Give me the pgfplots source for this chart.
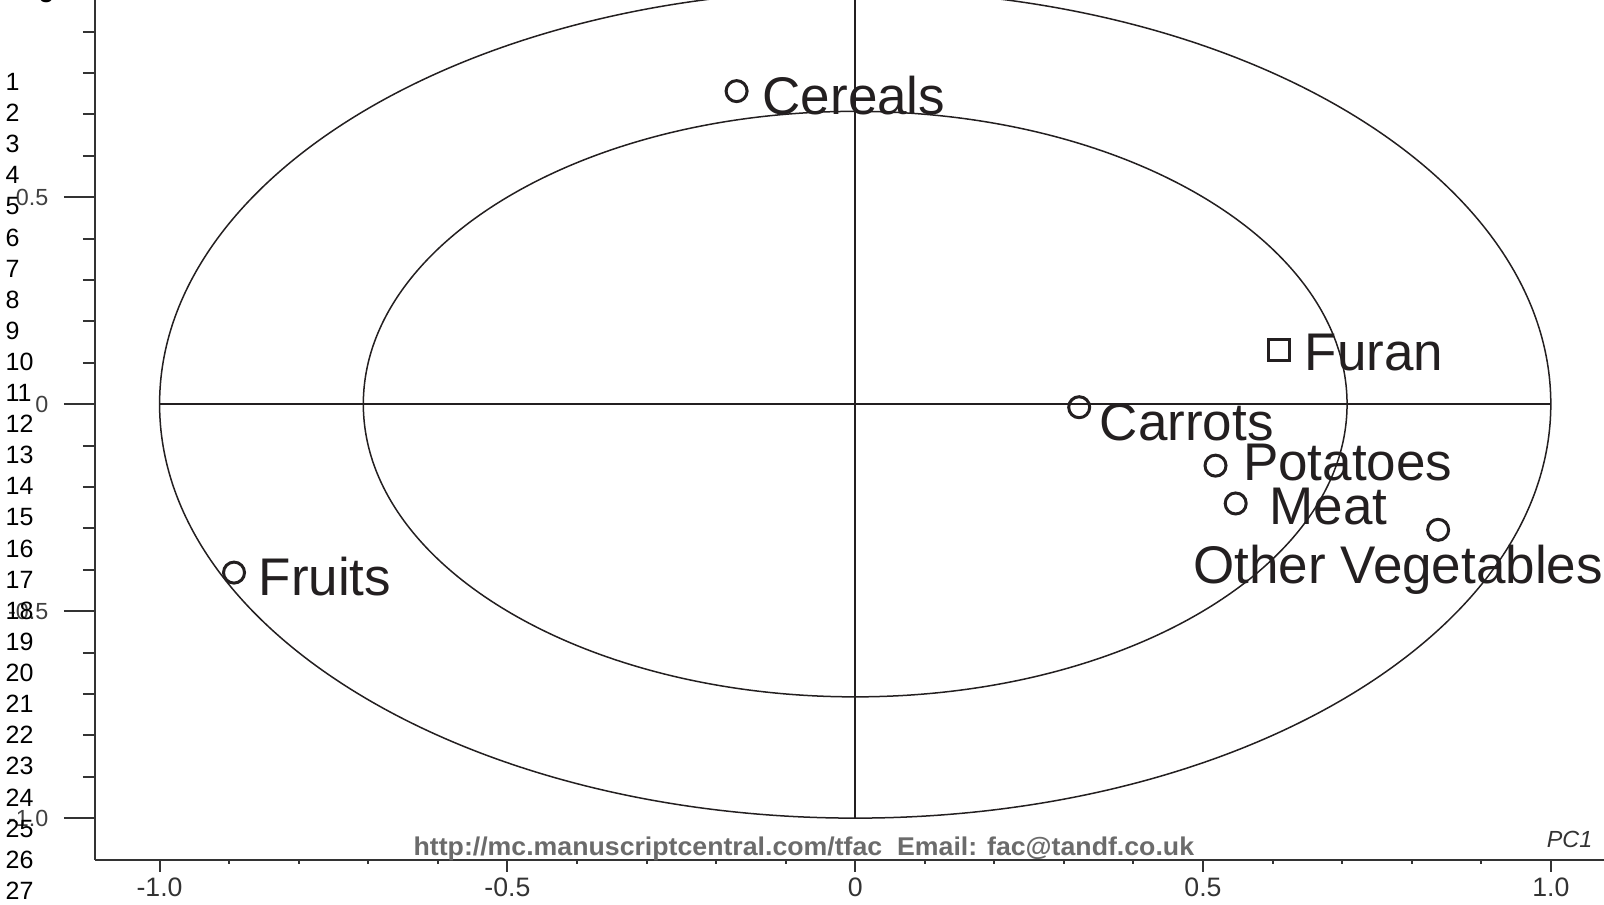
\documentclass[border=0pt]{standalone}
\usepackage{pgfplots}
\pgfplotsset{compat=1.18}
\usepackage{fontspec}
\setmainfont{Liberation Sans}
\definecolor{ink}{HTML}{231F20}
\begin{document}
\begin{tikzpicture}
\useasboundingbox (-256.56pt,-149.97pt) rectangle (224.64pt,121.23pt);
\clip (-256.56pt,-149.97pt) rectangle (224.64pt,121.23pt);
\begin{axis}[
  anchor=origin, at={(0pt,0pt)},
  x=208.68pt, y=124.2pt,
  xmin=-1.093, xmax=1.2, ymin=-1.1, ymax=1.05,
  axis x line=bottom, axis y line=left,
  axis line style={-, line width=0.6pt, black!80},
  clip=false,
  tick align=outside,
  xtick={-1,-0.5,0,0.5,1}, xticklabels={-1.0,-0.5,0,0.5,1.0},
  ytick={-1,-0.5,0,0.5}, yticklabels={-1.0,-0.5,0,0.5},
  minor xtick={-0.9,-0.8,-0.7,-0.6,-0.4,-0.3,-0.2,-0.1,0.1,0.2,0.3,0.4,0.6,0.7,0.8,0.9},
  minor ytick={-0.9,-0.8,-0.7,-0.6,-0.4,-0.3,-0.2,-0.1,0.1,0.2,0.3,0.4,0.6,0.7,0.8,0.9},
  xtick style={/pgfplots/major tick length=3.6pt, /pgfplots/minor tick length=1.2pt, line width=0.6pt, black!80},
  ytick style={/pgfplots/major tick length=9.3pt, /pgfplots/minor tick length=3.6pt, line width=0.6pt, black!80},
  xticklabel style={font=\fontsize{8}{9}\selectfont, text=black!80, anchor=north, inner sep=0pt, yshift=-0.9pt},
  yticklabel style={font=\fontsize{7}{8}\selectfont, text=black!75, anchor=east, inner sep=0pt, xshift=-9.5pt},
]
% reference circles and crosshair
\draw[ink, line width=0.45pt] (axis cs:-1,0) -- (axis cs:1,0);
\draw[ink, line width=0.45pt] (axis cs:0,-1) -- (axis cs:0,1);
\draw[ink, line width=0.45pt] (axis cs:0,0) ellipse [x radius=1, y radius=1];
\draw[ink, line width=0.45pt] (axis cs:0,0) ellipse [x radius=0.7071, y radius=0.7071];
% loadings
\addplot[only marks, mark=o, mark size=3.15pt, ink, line width=0.9pt] coordinates {
  (-0.1705,0.756) (0.322,-0.0075) (0.518,-0.1486) (0.547,-0.240) (0.838,-0.3036) (-0.893,-0.407)
};
\addplot[only marks, mark=square, mark size=3.1pt, ink, line width=0.9pt] coordinates {
  (0.609,0.130)
};
\begin{scope}[every node/.style={anchor=base west, inner sep=0pt, text=ink, font=\fontsize{15.9}{18}\selectfont}]
\node at (axis cs:-0.134,0.6993) {Cereals};
\node at (axis cs:0.6452,0.0812) {Furan};
\node at (axis cs:0.3508,-0.0867) {Carrots};
\node at (axis cs:0.5566,-0.1857) {Potatoes};
\node at (axis cs:0.5949,-0.2908) {Meat};
\node at (axis cs:0.4851,-0.4326) {Other Vegetables};
\node at (axis cs:-0.8585,-0.4616) {Fruits};
\end{scope}
\end{axis}
% watermark
\node[anchor=base, inner sep=0pt, text=black!58] at (-15.4pt,-135.27pt)
  {\scalebox{1.04}[1]{\fontsize{7.7}{9}\selectfont\bfseries http://mc.manuscriptcentral.com/tfac\ \ Email: fac@tandf.co.uk}};
% axis name
\node[anchor=base west, inner sep=0pt, text=black!80, font=\fontsize{7}{8}\selectfont\itshape] at (207.3pt,-132.9pt) {PC1};
% manuscript line numbers
\foreach \n in {1,...,27} {
  \node[anchor=west, inner sep=0pt, font=\fontsize{7.5}{9}\selectfont] at (-255.06pt, {96.63pt-(\n-1)*9.33pt}) {\n};
}
\node[anchor=south, inner sep=0pt, font=\fontsize{7.5}{9}\selectfont\bfseries] at (-242.6pt,120.2pt) {g};
\end{tikzpicture}
\end{document}
